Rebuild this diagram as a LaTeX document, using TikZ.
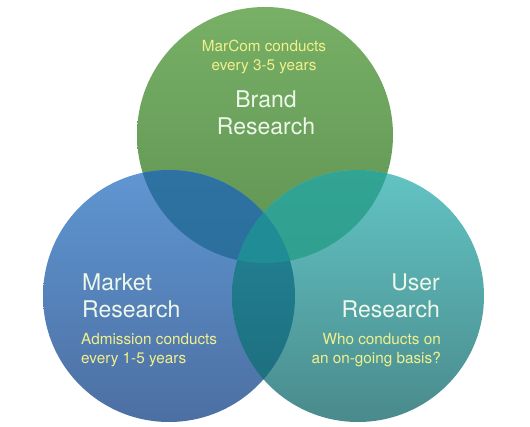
\documentclass[tikz,border=0pt]{standalone}
\usepackage{fontspec}
\setmainfont{TeX Gyre Heros}
\begin{document}
\begin{tikzpicture}[x=1pt,y=-1pt,
  bigtxt/.style={text=bigc, font=\fontsize{23}{27}\selectfont, inner sep=0pt},
  smalltxt/.style={text=notec, font=\fontsize{15.3}{19}\selectfont, inner sep=0pt}]
\useasboundingbox (0,0) rectangle (530,427);
\definecolor{bigc}{HTML}{EEF8EA}\definecolor{notec}{HTML}{F2F08C}
\definecolor{brandT}{HTML}{78B066}\definecolor{brandB}{HTML}{5E9252}
\definecolor{markT}{HTML}{5F96D2}\definecolor{markB}{HTML}{4C6FA2}
\definecolor{userT}{HTML}{62C4C4}\definecolor{userB}{HTML}{4A8A8C}
\definecolor{bmT}{HTML}{2D72A2}\definecolor{bmB}{HTML}{2A6A96}
\definecolor{buT}{HTML}{32A494}\definecolor{buB}{HTML}{2C9888}
\definecolor{muT}{HTML}{21889A}\definecolor{muB}{HTML}{1E6A7A}
\definecolor{triT}{HTML}{1F8C96}\definecolor{triB}{HTML}{1C8490}
\def\brandc{(265,135) circle[radius=128pt]}
\def\marketc{(169,296) circle[radius=126pt]}
\def\userc{(358,296) circle[radius=126pt]}
\shade[top color=brandT, bottom color=brandB] \brandc;
\shade[top color=markT, bottom color=markB] \marketc;
\shade[top color=userT, bottom color=userB] \userc;
\begin{scope}\clip \brandc; \shade[top color=bmT, bottom color=bmB] \marketc; \end{scope}
\begin{scope}\clip \brandc; \shade[top color=buT, bottom color=buB] \userc; \end{scope}
\begin{scope}\clip \marketc; \shade[top color=muT, bottom color=muB] \userc; \end{scope}
\begin{scope}\clip \brandc; \clip \marketc; \fill[triT] \userc; \end{scope}
\node[smalltxt, align=center] (brandnote) at (264,57) {MarCom conducts\\every 3-5 years};
\node[bigtxt, align=center] (brand) at (266,113) {Brand\\Research};
\node[bigtxt, align=left, anchor=west] (market) at (82,296) {Market\\Research};
\node[smalltxt, align=left, anchor=west] (marketnote) at (81,350) {Admission conducts\\every 1-5 years};
\node[bigtxt, align=right, anchor=east] (user) at (440,296) {User\\Research};
\node[smalltxt, align=right, anchor=east] (usernote) at (441,350) {Who conducts on\\an on-going basis?};
\end{tikzpicture}
\end{document}
